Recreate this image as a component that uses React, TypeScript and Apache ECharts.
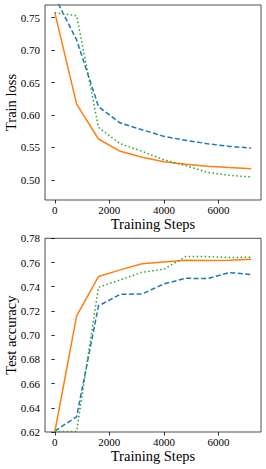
import React, { useEffect, useRef } from "react";
import * as echarts from "echarts";

const steps = [0, 800, 1600, 2400, 3200, 4000, 4800, 5600, 6400, 7200];
const xTicks = [0, 2000, 4000, 6000];

const lossOrange = [0.7577, 0.6168, 0.563, 0.544, 0.535, 0.528, 0.524, 0.521, 0.519, 0.517];
const lossBlue = [0.782, 0.7157, 0.613, 0.5876, 0.5773, 0.567, 0.561, 0.5557, 0.5516, 0.549];
const lossGreen = [0.7577, 0.753, 0.5808, 0.5557, 0.544, 0.531, 0.522, 0.5116, 0.507, 0.5045];
const lossTicks = [0.5, 0.55, 0.6, 0.65, 0.7, 0.75];

const accOrange = [0.62, 0.7159, 0.7484, 0.7539, 0.7589, 0.7605, 0.7619, 0.7616, 0.7619, 0.7627];
const accBlue = [0.6208, 0.6327, 0.7241, 0.7338, 0.734, 0.7423, 0.747, 0.7467, 0.7517, 0.75];
const accGreen = [0.6205, 0.6205, 0.7396, 0.7456, 0.752, 0.7544, 0.7649, 0.7649, 0.7641, 0.7644];
const accTicks = [0.62, 0.64, 0.66, 0.68, 0.7, 0.72, 0.74, 0.76, 0.78];

const FONT = "Liberation Serif";
const BLUE = "#1f77b4";
const ORANGE = "#ff7f0e";
const GREEN = "#2ca02c";

function pair(ys: number[]) {
  return steps.map((s, i) => [s, ys[i]]);
}

export default function App() {
  const ref = useRef<HTMLDivElement>(null);
  useEffect(() => {
    if (!ref.current) return;
    const chart = echarts.init(ref.current, null, { renderer: "svg" });
    const xAxisBase = (gridIndex: number) => ({
      type: "value",
      gridIndex,
      min: -360,
      max: 7560,
      name: "Training Steps",
      nameLocation: "middle",
      nameGap: 16,
      nameMoveOverlap: false,
      nameTextStyle: { fontFamily: FONT, fontSize: 14.5, color: "#000" },
      axisLine: { show: false },
      splitLine: { show: false },
      axisTick: {
        show: true,
        length: 3.5,
        inside: false,
        customValues: xTicks,
        lineStyle: { color: "#000", width: 0.8 },
      },
      axisLabel: {
        customValues: xTicks,
        fontFamily: FONT,
        fontSize: 11,
        color: "#000",
        margin: 4,
        formatter: (v: number) => String(Math.round(v)),
      },
    });
    const yAxisBase = (gridIndex: number, min: number, max: number, ticks: number[], name: string) => ({
      type: "value",
      gridIndex,
      min,
      max,
      name,
      nameLocation: "middle",
      nameGap: 27,
      nameMoveOverlap: false,
      nameTextStyle: { fontFamily: FONT, fontSize: 14.5, color: "#000" },
      axisLine: { show: false },
      splitLine: { show: false },
      axisTick: {
        show: true,
        length: 3.5,
        customValues: ticks,
        lineStyle: { color: "#000", width: 0.8 },
      },
      axisLabel: {
        customValues: ticks,
        fontFamily: FONT,
        fontSize: 11,
        color: "#000",
        margin: 5,
        formatter: (v: number) => v.toFixed(2),
      },
    });
    const line = (data: number[], color: string, type: any, xi: number) => ({
      type: "line",
      xAxisIndex: xi,
      yAxisIndex: xi,
      data: pair(data),
      symbol: "none",
      clip: true,
      lineStyle: { color, width: 1.5, type },
    });
    const gridBase = {
      left: 45,
      width: 216,
      show: true,
      borderColor: "#222",
      borderWidth: 0.8,
      backgroundColor: "transparent",
      containLabel: false,
      outerBoundsMode: "none",
    };
    chart.setOption({
      animation: false,
      backgroundColor: "#fff",
      grid: [
        { ...gridBase, top: 5, height: 195 },
        { ...gridBase, top: 238.3, height: 193.7 },
      ],
      xAxis: [xAxisBase(0), xAxisBase(1)],
      yAxis: [
        yAxisBase(0, 0.469, 0.7695, lossTicks, "Train loss"),
        yAxisBase(1, 0.62, 0.78, accTicks, "Test accuracy"),
      ],
      series: [
        line(lossBlue, BLUE, [5, 2.5], 0),
        line(lossOrange, ORANGE, "solid", 0),
        line(lossGreen, GREEN, [1.5, 2.5], 0),
        line(accBlue, BLUE, [5, 2.5], 1),
        line(accOrange, ORANGE, "solid", 1),
        line(accGreen, GREEN, [1.5, 2.5], 1),
      ],
    });
    return () => chart.dispose();
  }, []);
  return (
    <div
      ref={ref}
      style={{ position: "fixed", left: 0, top: 0, width: 266, height: 469, background: "#fff" }}
    />
  );
}
